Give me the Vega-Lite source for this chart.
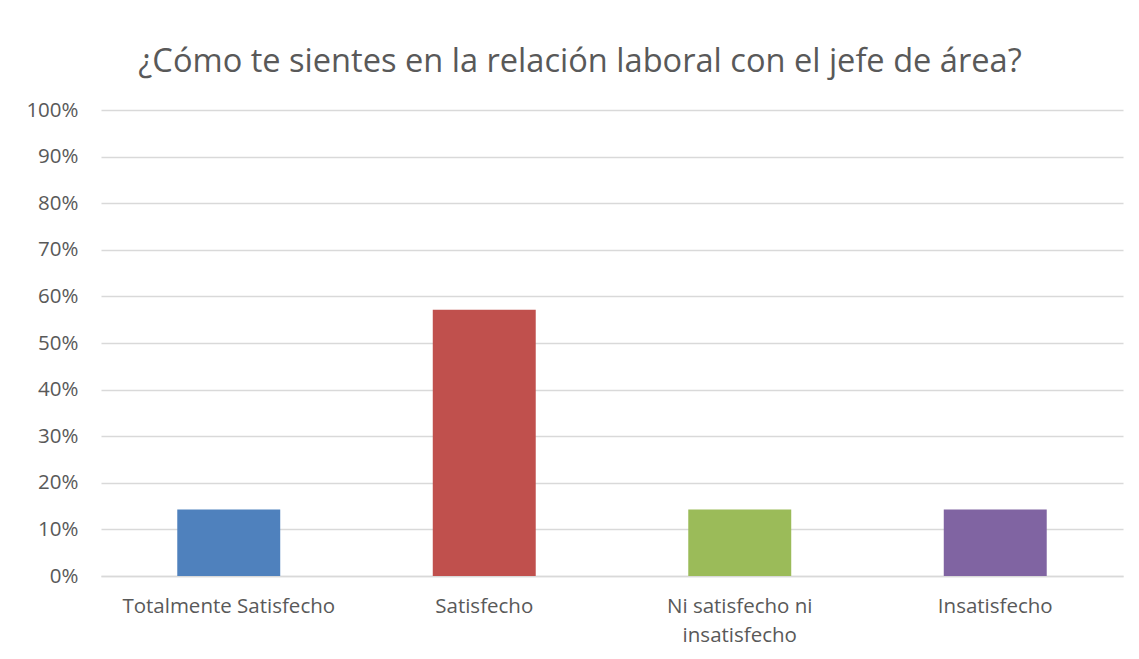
{
  "$schema": "https://vega.github.io/schema/vega-lite/v6.json",
  "autosize": {"type": "none"},
  "width": 1022,
  "height": 466,
  "padding": {"left": 101, "top": 110, "right": 16, "bottom": 83},
  "background": "white",
  "title": {
    "text": "¿Cómo te sientes en la relación laboral con el jefe de área?",
    "font": "Open Sans",
    "fontSize": 32.6,
    "fontWeight": "normal",
    "color": "#595959",
    "anchor": "middle",
    "dx": -32,
    "offset": 21
  },
  "data": {
    "values": [
      {"categoria": "Totalmente Satisfecho", "porcentaje": 0.1429},
      {"categoria": "Satisfecho", "porcentaje": 0.5714},
      {"categoria": "Ni satisfecho ni insatisfecho", "porcentaje": 0.1429},
      {"categoria": "Insatisfecho", "porcentaje": 0.1429}
    ]
  },
  "mark": {"type": "bar"},
  "encoding": {
    "x": {
      "field": "categoria",
      "type": "nominal",
      "sort": null,
      "scale": {"paddingInner": 0.597, "paddingOuter": 0.2985},
      "axis": {
        "title": null,
        "labelAngle": 0,
        "labelFont": "Open Sans",
        "labelFontSize": 20.5,
        "labelColor": "#595959",
        "labelPadding": 20,
        "labelLineHeight": 29,
        "labelLimit": 400,
        "labelExpr": "datum.label == 'Ni satisfecho ni insatisfecho' ? ['Ni satisfecho ni', 'insatisfecho'] : datum.label",
        "ticks": false,
        "domain": true,
        "domainColor": "#d9d9d9",
        "domainWidth": 1.5,
        "grid": false
      }
    },
    "y": {
      "field": "porcentaje",
      "type": "quantitative",
      "scale": {"domain": [0, 1]},
      "axis": {
        "title": null,
        "format": ".0%",
        "values": [0, 0.1, 0.2, 0.3, 0.4, 0.5, 0.6, 0.7, 0.8, 0.9, 1],
        "labelOverlap": false,
        "labelFont": "Open Sans",
        "labelFontSize": 20.5,
        "labelColor": "#595959",
        "labelPadding": 23,
        "ticks": false,
        "domain": false,
        "grid": true,
        "gridColor": "#d9d9d9",
        "gridWidth": 1.5
      }
    },
    "color": {
      "field": "categoria",
      "type": "nominal",
      "sort": null,
      "scale": {
        "domain": ["Totalmente Satisfecho", "Satisfecho", "Ni satisfecho ni insatisfecho", "Insatisfecho"],
        "range": ["#4F81BD", "#C0504D", "#9BBB59", "#8064A2"]
      },
      "legend": null
    }
  },
  "config": {"view": {"stroke": null}}
}
